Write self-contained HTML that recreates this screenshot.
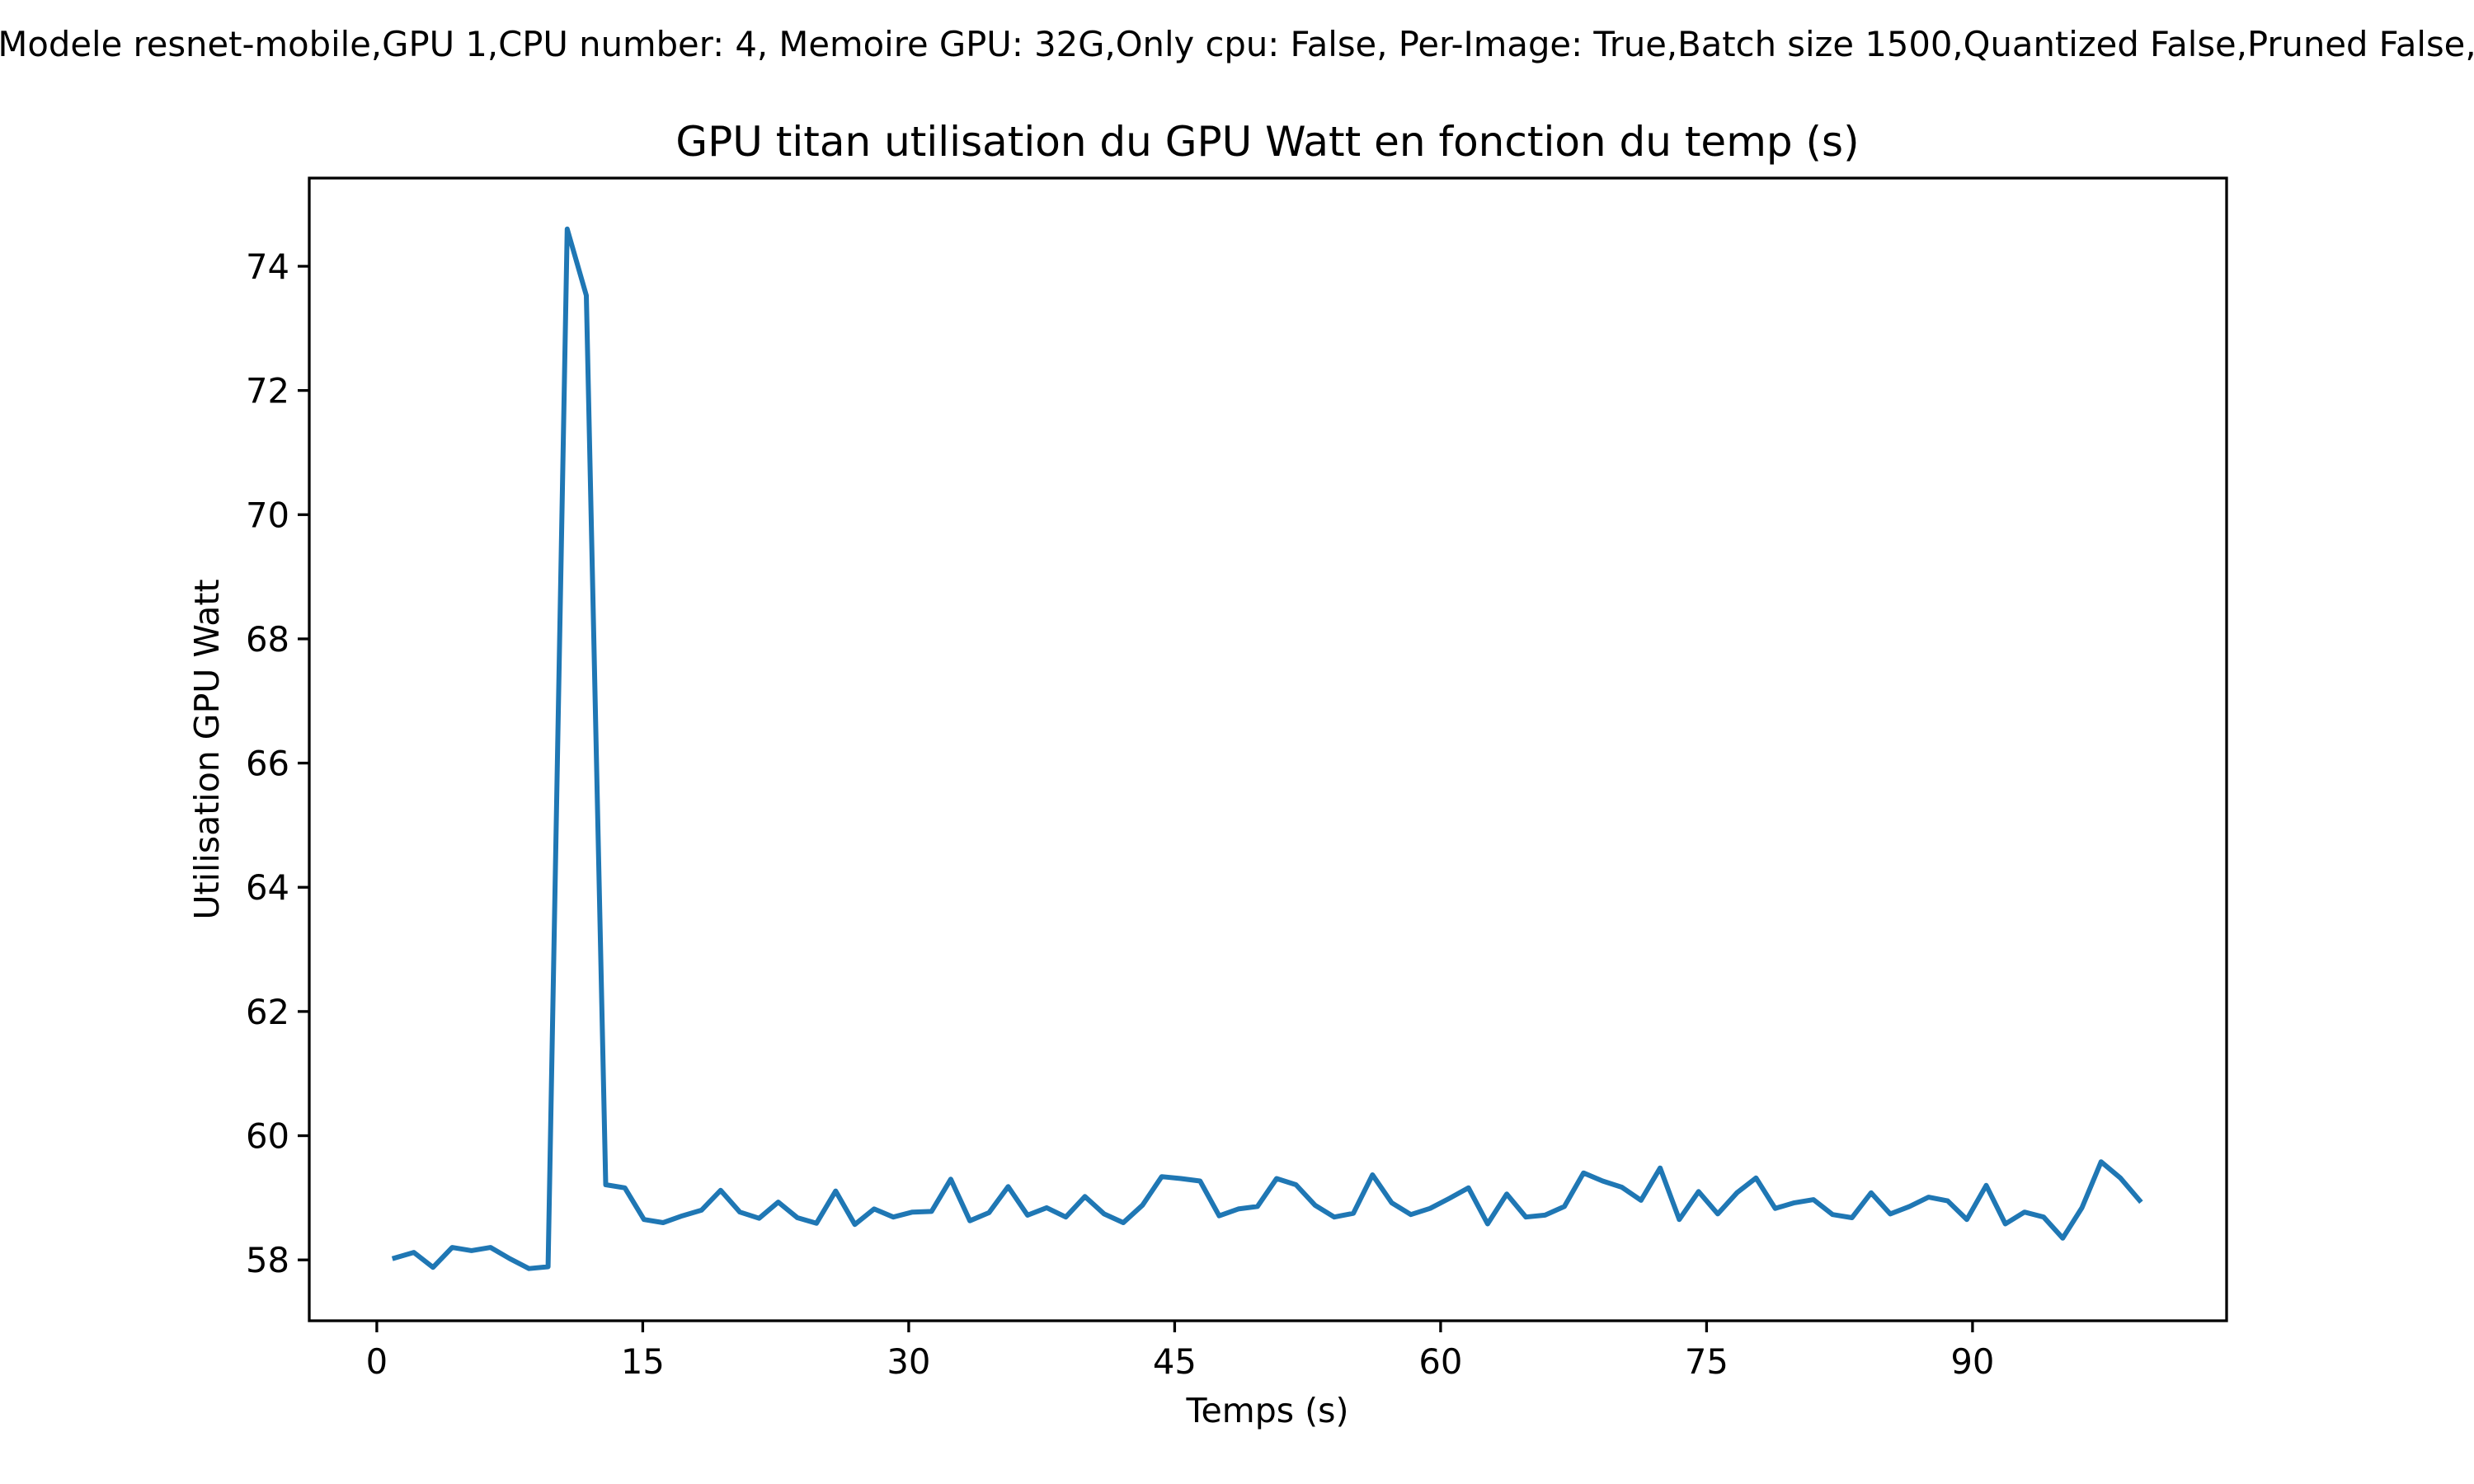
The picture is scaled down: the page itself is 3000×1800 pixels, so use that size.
<!DOCTYPE html>
<html><head><meta charset="utf-8"><style>
html,body{margin:0;padding:0;background:#fff;}
svg{display:block;font-family:"DejaVu Sans","Liberation Sans",sans-serif;}
</style></head><body>
<svg id="chart" width="3000" height="1800" viewBox="0 0 3000 1800" xmlns="http://www.w3.org/2000/svg">
<rect x="0" y="0" width="3000" height="1800" fill="#fff"/>
<text x="1500" y="68" font-size="41.7" text-anchor="middle">Modele resnet-mobile,GPU 1,CPU number: 4, Memoire GPU: 32G,Only cpu: False, Per-Image: True,Batch size 1500,Quantized False,Pruned False,</text>
<text x="1537" y="189" font-size="50" text-anchor="middle">GPU titan utilisation du GPU Watt en fonction du temp (s)</text>
<g id="xticks"></g>
<g id="yticks"></g>
<path id="series" fill="none" stroke="#1f77b4" stroke-width="6" stroke-linejoin="round" stroke-linecap="square"/>
<rect x="375" y="216" width="2325" height="1386" fill="none" stroke="#000" stroke-width="3.3"/>
<text x="1537" y="1725" font-size="41" text-anchor="middle">Temps (s)</text>
<text x="0" y="0" font-size="41" text-anchor="middle" transform="translate(265,909) rotate(-90)">Utilisation GPU Watt</text>
</svg>
<script>
const times = [1.01,2.09,3.17,4.25,5.34,6.42,7.50,8.58,9.66,10.74,11.82,12.91,13.99,15.07,16.15,17.23,18.31,19.39,20.48,21.56,22.64,23.72,24.80,25.88,26.96,28.05,29.13,30.21,31.29,32.37,33.45,34.53,35.61,36.70,37.78,38.86,39.94,41.02,42.10,43.18,44.27,45.35,46.43,47.51,48.59,49.67,50.75,51.84,52.92,54.00,55.08,56.16,57.24,58.32,59.41,60.49,61.57,62.65,63.73,64.81,65.89,66.98,68.06,69.14,70.22,71.30,72.38,73.46,74.55,75.63,76.71,77.79,78.87,79.95,81.03,82.11,83.20,84.28,85.36,86.44,87.52,88.60,89.68,90.77,91.85,92.93,94.01,95.09,96.17,97.25,98.34,99.42];
const watts = [58.03,58.12,57.88,58.20,58.15,58.20,58.02,57.86,57.89,74.6,73.53,59.21,59.16,58.65,58.60,58.71,58.80,59.12,58.77,58.67,58.93,58.68,58.59,59.11,58.57,58.82,58.69,58.77,58.78,59.30,58.63,58.76,59.18,
58.72,58.84,58.69,59.02,58.74,58.60,58.88,59.34,59.31,59.27,58.71,58.82,58.86,59.31,59.21,58.88,58.69,58.75,59.37,58.92,58.73,58.83,58.99,59.16,58.58,59.06,58.69,58.72,58.86,59.40,59.27,59.17,58.96,
59.48,58.65,59.10,58.74,59.08,59.32,58.83,58.92,58.97,58.73,58.68,59.08,58.74,58.86,59.01,58.95,58.65,59.20,58.58,58.77,58.69,58.35,58.84,59.58,59.32,58.96];
const xTicks = [0,15,30,45,60,75,90];
const yTicks = [58,60,62,64,66,68,70,72,74];
const xDomain = [-3.81,104.33];
const yDomain = [57.02,75.42];

const L=375,R=2700,T=216,B=1602;
function sx(v){return L+(v-xDomain[0])/(xDomain[1]-xDomain[0])*(R-L);}
function sy(v){return B-(v-yDomain[0])/(yDomain[1]-yDomain[0])*(B-T);}
const NS="http://www.w3.org/2000/svg";
const xg=document.getElementById('xticks'), yg=document.getElementById('yticks');
xTicks.forEach(t=>{
  const l=document.createElementNS(NS,'line');
  l.setAttribute('x1',sx(t));l.setAttribute('x2',sx(t));l.setAttribute('y1',B);l.setAttribute('y2',B+14);
  l.setAttribute('stroke','#000');l.setAttribute('stroke-width','3.3');
  
  
  xg.appendChild(l);
  const tx=document.createElementNS(NS,'text');
  tx.setAttribute('x',sx(t));tx.setAttribute('y',B+64);tx.setAttribute('font-size','41.7');tx.setAttribute('text-anchor','middle');
  tx.textContent=t;
  
  
  xg.appendChild(tx);
});
yTicks.forEach(t=>{
  const l=document.createElementNS(NS,'line');
  l.setAttribute('x1',L-14);l.setAttribute('x2',L);l.setAttribute('y1',sy(t));l.setAttribute('y2',sy(t));
  l.setAttribute('stroke','#000');l.setAttribute('stroke-width','3.3');
  
  
  yg.appendChild(l);
  const tx=document.createElementNS(NS,'text');
  tx.setAttribute('x',L-24);tx.setAttribute('y',sy(t)+15);tx.setAttribute('font-size','41.7');tx.setAttribute('text-anchor','end');
  tx.textContent=t;
  
  
  yg.appendChild(tx);
});
let d='';
times.forEach((t,i)=>{d+=(i?'L':'M')+sx(t).toFixed(1)+' '+sy(watts[i]).toFixed(1);});
document.getElementById('series').setAttribute('d',d);
</script>
</body></html>
